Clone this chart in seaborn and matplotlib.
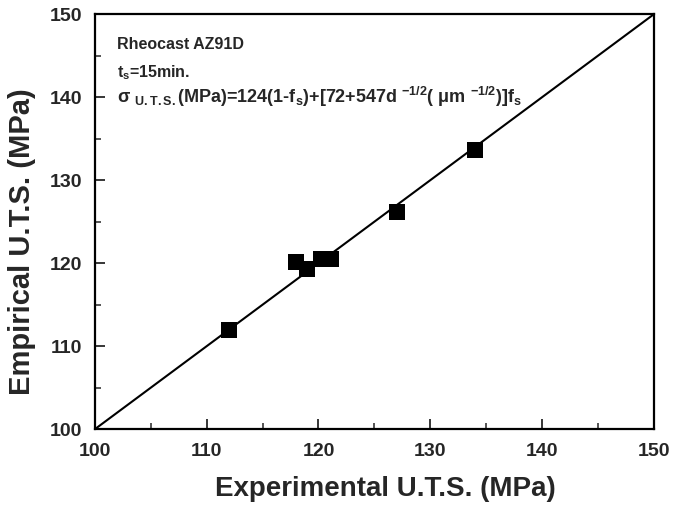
import matplotlib
matplotlib.use("Agg")
import matplotlib.pyplot as plt
import seaborn as sns
import pandas as pd
from matplotlib.ticker import MultipleLocator

# Measured vs. predicted ultimate tensile strength
experimental_uts = [112.0, 118.0, 119.0, 120.2, 121.1, 127.0, 134.0]
empirical_uts = [112.0, 120.2, 119.3, 120.5, 120.5, 126.2, 133.6]
parity = [100, 150]

sns.set_style("ticks")
plt.rcParams["font.family"] = ["Liberation Sans", "DejaVu Sans"]
plt.rcParams["font.weight"] = "bold"
plt.rcParams["mathtext.fontset"] = "custom"
plt.rcParams["mathtext.rm"] = "Liberation Sans:bold"
plt.rcParams["mathtext.it"] = "Liberation Sans:bold"
plt.rcParams["mathtext.bf"] = "Liberation Sans:bold"
plt.rcParams["mathtext.sf"] = "Liberation Sans:bold"

df = pd.DataFrame({"exp": experimental_uts, "emp": empirical_uts})
line_df = pd.DataFrame({"x": parity, "y": parity})

fig = plt.figure(figsize=(6.77, 5.05), dpi=100)
ax = fig.add_axes([0.140, 0.150, 0.826, 0.822])

sns.lineplot(data=line_df, x="x", y="y", color="black", linewidth=1.5, ax=ax)
sns.scatterplot(data=df, x="exp", y="emp", marker="s", s=140, color="black",
                edgecolor="black", linewidth=0, ax=ax, zorder=3)

ax.set_xlim(100, 150)
ax.set_ylim(100, 150)
ax.xaxis.set_major_locator(MultipleLocator(10))
ax.xaxis.set_minor_locator(MultipleLocator(5))
ax.yaxis.set_major_locator(MultipleLocator(10))
ax.yaxis.set_minor_locator(MultipleLocator(5))
ax.tick_params(which="major", direction="in", length=7, width=1.3,
               labelsize=14)
ax.tick_params(axis="x", which="major", pad=10)
ax.tick_params(axis="y", which="major", pad=9)
ax.tick_params(which="minor", direction="in", length=4, width=1.1)
for lab in ax.get_xticklabels() + ax.get_yticklabels():
    lab.set_fontweight("bold")

for sp in ax.spines.values():
    sp.set_visible(True)
    sp.set_linewidth(1.6)
    sp.set_color("black")

ax.set_xlabel("Experimental U.T.S. (MPa)", fontsize=20, fontweight="bold")
ax.set_ylabel("Empirical U.T.S. (MPa)", fontsize=21, fontweight="bold")
ax.xaxis.set_label_coords(0.519, -0.113)
ax.yaxis.set_label_coords(-0.105, 0.453)

ax.text(102.0, 146.4, "Rheocast AZ91D", fontsize=11.5, fontweight="bold",
        va="center", ha="left")
ax.text(102.0, 143.0, r"t$_\mathregular{s}$=15min.", fontsize=11.5,
        fontweight="bold", va="center", ha="left")
ax.text(102.0, 140.0,
        r"$\sigma$ $_{\mathregular{U. T. S.}}$(MPa)=124(1-f$_\mathregular{s}$)"
        r"+[72+547d $^{\mathregular{-1/2}}$( $\mu$m $^{\mathregular{-1/2}}$)]f$_\mathregular{s}$",
        fontsize=13, fontweight="bold", va="center", ha="left")

fig.savefig("out.png", dpi=100)
